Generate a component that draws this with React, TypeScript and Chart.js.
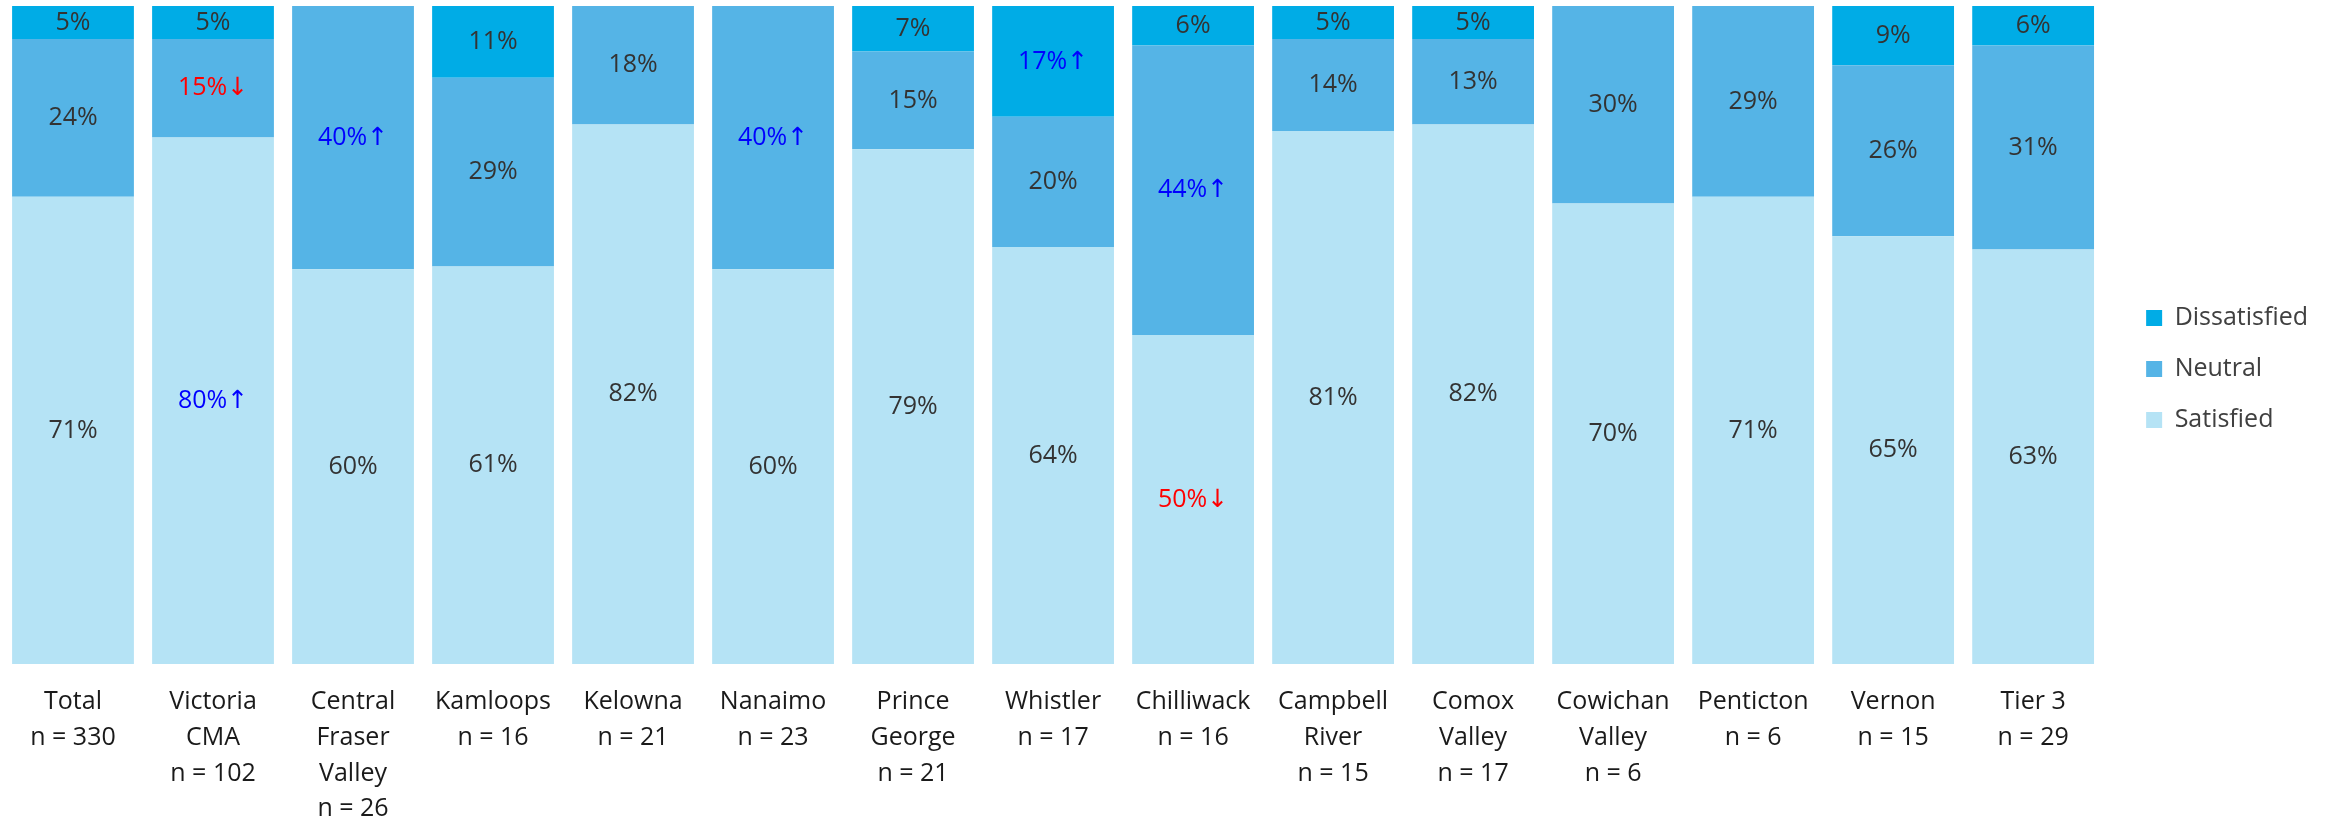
import React, { useEffect, useRef } from 'react';
import { Chart, registerables } from 'chart.js';

Chart.register(...registerables);

const FONT = "'Open Sans', 'DejaVu Sans', sans-serif";

const categories: string[][] = [
  ['Total', 'n = 330'],
  ['Victoria', 'CMA', 'n = 102'],
  ['Central', 'Fraser', 'Valley', 'n = 26'],
  ['Kamloops', 'n = 16'],
  ['Kelowna', 'n = 21'],
  ['Nanaimo', 'n = 23'],
  ['Prince', 'George', 'n = 21'],
  ['Whistler', 'n = 17'],
  ['Chilliwack', 'n = 16'],
  ['Campbell', 'River', 'n = 15'],
  ['Comox', 'Valley', 'n = 17'],
  ['Cowichan', 'Valley', 'n = 6'],
  ['Penticton', 'n = 6'],
  ['Vernon', 'n = 15'],
  ['Tier 3', 'n = 29'],
];

const satisfied = [71, 80, 60, 61, 82, 60, 79, 64, 50, 81, 82, 70, 71, 65, 63];
const neutral = [24, 15, 40, 29, 18, 40, 15, 20, 44, 14, 13, 30, 29, 26, 31];
const dissatisfied = [5, 5, 0, 11, 0, 0, 7, 17, 6, 5, 5, 0, 0, 9, 6];

// significance markers: 'up' = significantly higher, 'down' = significantly lower
const satisfiedSig = ['', 'up', '', '', '', '', '', '', 'down', '', '', '', '', '', ''];
const neutralSig = ['', 'down', 'up', '', '', 'up', '', '', 'up', '', '', '', '', '', ''];
const dissatisfiedSig = ['', '', '', '', '', '', '', 'up', '', '', '', '', '', '', ''];

const seriesNames = ['Satisfied', 'Neutral', 'Dissatisfied'];
const seriesColors = ['#B5E3F5', '#55B4E6', '#00ACE6'];

const rawSeries = [satisfied, neutral, dissatisfied];
const sigSeries = [satisfiedSig, neutralSig, dissatisfiedSig];

// bar totals, used to normalise each bar to 100%
const totals = categories.map((_, i) => satisfied[i] + neutral[i] + dissatisfied[i]);

const segmentLabels = {
  id: 'segmentLabels',
  afterDatasetsDraw(chart: any) {
    const ctx = chart.ctx;
    ctx.save();
    ctx.font = `25px ${FONT}`;
    ctx.textAlign = 'center';
    ctx.textBaseline = 'middle';
    chart.data.datasets.forEach((_ds: any, i: number) => {
      const meta = chart.getDatasetMeta(i);
      if (meta.hidden) return;
      meta.data.forEach((el: any, j: number) => {
        const raw = rawSeries[i][j];
        if (!raw) return;
        const { x, y, base } = el.getProps(['x', 'y', 'base'], true);
        const sig = sigSeries[i][j];
        ctx.fillStyle = sig === 'up' ? '#0000FF' : sig === 'down' ? '#FF0000' : '#333333';
        const arrow = sig === 'up' ? '↑' : sig === 'down' ? '↓' : '';
        ctx.fillText(`${raw}%${arrow}`, x, (y + base) / 2);
      });
    });
    ctx.restore();
  },
};

export default function App() {
  const canvasRef = useRef<HTMLCanvasElement | null>(null);

  useEffect(() => {
    if (!canvasRef.current) return;
    const chart = new Chart(canvasRef.current, {
      type: 'bar',
      data: {
        labels: categories,
        datasets: rawSeries.map((vals, i) => ({
          label: seriesNames[i],
          data: vals.map((v, j) => (v / totals[j]) * 100),
          backgroundColor: seriesColors[i],
          borderWidth: 0,
          barPercentage: 0.87,
          categoryPercentage: 1,
        })),
      },
      options: {
        animation: false,
        responsive: true,
        maintainAspectRatio: false,
        events: [],
        layout: { padding: { top: 6, left: 3, right: 20, bottom: 0 } },
        scales: {
          x: {
            stacked: true,
            grid: { display: false, drawTicks: false },
            border: { display: false },
            ticks: {
              color: '#1a1a1a',
              font: { family: FONT, size: 25, lineHeight: 1.432 },
              padding: 20,
              maxRotation: 0,
              minRotation: 0,
              autoSkip: false,
            },
            afterFit: (s: any) => {
              s.height = 158;
            },
          },
          y: {
            stacked: true,
            position: 'right',
            min: 0,
            max: 100,
            grid: { display: false, drawTicks: false },
            border: { display: false },
            ticks: { display: false },
            afterFit: (s: any) => {
              s.width = 17;
            },
          },
        },
        plugins: {
          tooltip: { enabled: false },
          legend: {
            position: 'right',
            fullSize: false,
            reverse: true,
            align: 'center',
            title: { display: true, text: '', padding: { top: 53.6, bottom: 0 } },
            labels: {
              color: '#404040',
              font: { family: FONT, size: 25 },
              boxWidth: 16,
              boxHeight: 16,
              padding: 26,
            },
          },
        },
      },
      plugins: [segmentLabels],
    });
    return () => chart.destroy();
  }, []);

  return (
    <div style={{ position: 'fixed', left: 0, top: 0, width: 2338, height: 822, background: '#ffffff' }}>
      <canvas ref={canvasRef} />
    </div>
  );
}
